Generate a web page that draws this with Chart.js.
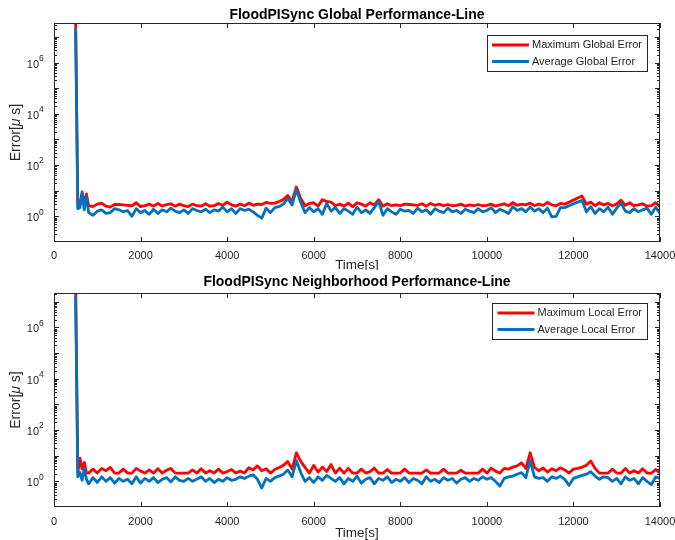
<!DOCTYPE html>
<html>
<head>
<meta charset="utf-8">
<script src="https://cdn.jsdelivr.net/npm/chart.js@4.4.1/dist/chart.umd.min.js"></script>
<style>
  html, body { margin: 0; padding: 0; background: #fff; }
  canvas { display: block; }
</style>
</head>
<body>
<canvas id="globalChart" width="675" height="270"></canvas>
<canvas id="localChart" width="675" height="270"></canvas>
<script>
// sample times [s]
const times = [
  500, 550, 600, 650, 700, 750, 800, 900, 1000, 1100,
  1200, 1300, 1400, 1500, 1600, 1700, 1800, 1900, 2000, 2100,
  2200, 2300, 2400, 2500, 2600, 2700, 2800, 2900, 3000, 3100,
  3200, 3300, 3400, 3500, 3600, 3700, 3800, 3900, 4000, 4100,
  4200, 4300, 4400, 4500, 4600, 4700, 4800, 4900, 5000, 5100,
  5200, 5300, 5400, 5500, 5600, 5700, 5800, 5900, 6000, 6100,
  6200, 6300, 6400, 6500, 6600, 6700, 6800, 6900, 7000, 7100,
  7200, 7300, 7400, 7500, 7600, 7700, 7800, 7900, 8000, 8100,
  8200, 8300, 8400, 8500, 8600, 8700, 8800, 8900, 9000, 9100,
  9200, 9300, 9400, 9500, 9600, 9700, 9800, 9900, 10000, 10100,
  10200, 10300, 10400, 10500, 10600, 10700, 10800, 10900, 11000, 11100,
  11200, 11300, 11400, 11500, 11600, 11700, 11800, 11900, 12000, 12100,
  12200, 12300, 12400, 12500, 12600, 12700, 12800, 12900, 13000, 13100,
  13200, 13300, 13400, 13500, 13600, 13700, 13800, 13900, 14000
];

// global error [us]
const maxGlobal = [
  4e7, 2.6, 3.0, 9.0, 3.2, 7.5, 2.6, 2.4, 3.0, 3.3,
  2.5, 2.3, 2.9, 2.9, 2.8, 2.7, 2.6, 3.4, 2.4, 2.6,
  3.0, 2.5, 3.2, 2.5, 2.9, 3.1, 2.5, 3.0, 2.6, 2.4,
  3.0, 2.6, 2.5, 3.1, 2.5, 2.6, 3.2, 2.7, 3.6, 2.8,
  2.5, 3.0, 2.6, 3.3, 2.7, 3.0, 2.9, 3.5, 3.2, 3.3,
  3.8, 4.5, 6.5, 3.8, 14, 5.0, 2.6, 3.2, 3.4, 2.5,
  4.5, 3.8, 3.6, 2.6, 3.0, 2.5, 3.3, 2.4, 3.4, 3.0,
  2.5, 3.4, 2.8, 4.5, 2.5, 3.1, 2.6, 2.8, 2.6, 3.0,
  2.9, 2.8, 2.7, 3.1, 2.5, 3.2, 2.7, 3.0, 2.6, 2.9,
  2.6, 2.7, 3.0, 2.5, 2.8, 2.6, 2.9, 2.6, 2.7, 3.0,
  2.5, 2.8, 3.1, 2.6, 3.4, 2.7, 3.0, 2.8, 3.3, 2.6,
  3.0, 2.7, 3.5, 2.8, 2.6, 3.2, 3.0, 3.6, 4.3, 5.2,
  6.2, 3.0, 3.6, 2.6, 3.4, 2.8, 3.2, 2.6, 3.0, 4.3,
  2.7, 3.4, 2.6, 2.8, 3.1, 2.5, 2.6, 3.4, 2.4
];
const avgGlobal = [
  2e7, 2.0, 2.2, 8.0, 1.8, 6.0, 1.4, 1.1, 1.6, 1.8,
  1.3, 1.4, 2.0, 1.8, 1.5, 1.7, 1.0, 2.0, 1.4, 1.7,
  1.2, 1.9, 1.3, 1.8, 1.5, 2.1, 1.6, 1.4, 1.8, 1.3,
  2.0, 1.7, 1.5, 1.9, 1.4, 1.8, 1.6, 2.3, 1.5, 2.0,
  1.3, 2.0, 1.7, 1.9, 1.5, 1.1, 0.85, 2.1, 1.4, 2.2,
  2.4, 3.0, 5.0, 2.8, 11, 3.5, 1.4, 2.2, 1.5, 2.0,
  1.2, 3.2, 1.6, 2.2, 1.3, 2.0, 1.6, 1.2, 2.3, 1.4,
  1.8, 1.3, 2.2, 3.8, 1.1, 2.0, 1.5, 1.2, 1.9, 1.6,
  1.7, 1.3, 2.1, 1.5, 1.8, 1.2, 2.0, 1.6, 1.4, 2.1,
  1.5, 1.7, 1.3, 1.9, 1.6, 1.4, 2.0, 1.5, 1.7, 2.2,
  1.4, 1.9, 1.6, 1.3, 2.4, 1.7, 2.0, 1.5, 2.3, 1.6,
  2.0, 1.4, 2.1, 0.95, 1.0, 2.2, 2.2, 2.6, 3.1, 3.6,
  4.2, 1.5, 2.4, 1.3, 2.0, 1.5, 2.3, 1.2, 2.1, 3.3,
  1.6, 1.4, 2.0, 1.5, 1.8, 2.1, 1.2, 2.3, 1.3
];

// neighborhood (local) error [us]
const maxLocal = [
  4e7, 2.2, 8.0, 3.0, 5.5, 2.2, 2.1, 3.0, 2.1, 3.2,
  2.6, 3.5, 2.1, 2.1, 3.0, 2.1, 2.1, 3.2, 2.5, 2.1,
  2.8, 2.1, 3.1, 2.1, 2.7, 3.2, 2.1, 2.1, 2.1, 2.1,
  2.8, 2.1, 3.1, 2.1, 2.6, 2.1, 3.0, 2.1, 2.4, 2.9,
  2.1, 2.5, 2.1, 3.4, 2.8, 4.0, 2.6, 3.1, 2.1, 2.9,
  3.5, 4.2, 6.0, 3.0, 13, 6.0, 3.5, 2.1, 4.2, 2.3,
  3.6, 2.4, 4.5, 2.1, 3.3, 2.1, 3.2, 2.1, 2.1, 3.0,
  2.1, 2.4, 3.3, 2.1, 2.1, 2.9, 2.1, 2.1, 2.1, 3.0,
  2.1, 2.1, 2.1, 2.1, 2.8, 2.1, 2.1, 2.1, 3.0, 2.1,
  2.1, 2.1, 2.7, 2.1, 2.1, 2.1, 2.1, 3.0, 2.1, 3.3,
  2.5, 2.1, 3.2, 3.0, 3.6, 4.0, 5.3, 3.2, 13, 3.5,
  2.6, 3.3, 2.3, 3.1, 2.6, 3.4, 2.8, 2.1, 3.0, 3.2,
  3.6, 4.2, 6.2, 3.2, 2.1, 2.1, 2.1, 3.0, 2.1, 2.1,
  3.2, 2.1, 2.6, 2.1, 3.1, 2.1, 2.1, 2.9, 2.1
];
const avgLocal = [
  1.5e7, 1.5, 2.2, 1.1, 3.2, 1.2, 0.8, 1.4, 0.9, 1.5,
  1.0, 1.4, 0.85, 1.3, 1.0, 1.2, 0.8, 1.5, 0.85, 1.3,
  1.0, 1.4, 0.9, 1.2, 1.4, 0.95, 1.5, 1.1, 1.0, 1.3,
  1.0, 1.2, 1.5, 1.0, 1.3, 0.9, 1.2, 1.0, 1.4, 1.1,
  1.2, 1.5, 1.3, 1.6, 1.8, 1.2, 0.55, 1.3, 1.0, 1.4,
  1.6, 1.9, 2.8, 1.5, 6.5, 2.2, 1.0, 1.4, 0.9, 1.5,
  1.1, 1.7, 1.3, 1.0, 1.4, 0.8, 1.3, 1.0, 1.6, 0.85,
  1.2, 1.4, 0.8, 1.3, 1.1, 1.5, 0.9, 1.2, 1.0, 1.4,
  0.9, 1.3, 1.1, 0.8, 1.5, 1.0, 1.2, 0.9, 1.4, 1.1,
  1.3, 0.85, 1.2, 1.4, 1.0, 1.3, 1.1, 1.5, 1.2, 1.4,
  1.0, 0.65, 1.3, 1.5, 1.6, 1.9, 2.2, 1.4, 6.5, 1.5,
  1.3, 1.4, 1.0, 1.5, 1.3, 1.6, 1.2, 0.7, 1.3, 1.5,
  1.7, 1.9, 2.4, 1.6, 1.2, 1.5, 1.4, 1.0, 1.3, 0.8,
  1.5, 1.1, 1.3, 0.8, 1.4, 1.0, 0.75, 1.5, 1.3
];

const xTicks = [0, 2000, 4000, 6000, 8000, 10000, 12000, 14000];
const yTickExps = [0, 2, 4, 6];

const RED = '#ff0000';
const BLUE = '#0072bd';
const INK = '#262626';
const FONT = '"Liberation Sans", Arial, Helvetica, sans-serif';

const pts = (arr) => times.map((t, i) => ({ x: t, y: arr[i] }));

// MATLAB-style box, inward ticks, labels and an inset legend
const frame = {
  id: 'frame',
  afterDatasetsDraw(chart, args, o) {
    const { ctx, chartArea: a, scales: { x, y } } = chart;
    const cx = (a.left + a.right) / 2;
    ctx.save();
    ctx.strokeStyle = INK;
    ctx.lineWidth = 1;

    // ticks
    ctx.beginPath();
    xTicks.forEach(v => {
      const px = Math.round(x.getPixelForValue(v)) + 0.5;
      ctx.moveTo(px, a.bottom); ctx.lineTo(px, a.bottom - 5);
      ctx.moveTo(px, a.top); ctx.lineTo(px, a.top + 5);
    });
    for (let e = -1; e <= 7; e++) {
      for (let m = 1; m <= 9; m++) {
        const v = m * Math.pow(10, e);
        if (v <= y.min || v >= y.max) continue;
        const py = Math.round(y.getPixelForValue(v)) + 0.5;
        const len = m === 1 ? 5 : 3;
        ctx.moveTo(a.left, py); ctx.lineTo(a.left + len, py);
        ctx.moveTo(a.right, py); ctx.lineTo(a.right - len, py);
      }
    }
    ctx.stroke();

    // box
    ctx.strokeRect(a.left + 0.5, a.top + 0.5, a.right - a.left - 1, a.bottom - a.top - 1);

    // x tick labels
    ctx.fillStyle = INK;
    ctx.font = '11px ' + FONT;
    ctx.textAlign = 'center';
    ctx.textBaseline = 'middle';
    xTicks.forEach(v => ctx.fillText(String(v), x.getPixelForValue(v), a.bottom + o.tickGap));

    // y tick labels 10^n
    yTickExps.forEach(e => {
      const py = y.getPixelForValue(Math.pow(10, e));
      ctx.font = '11px ' + FONT;
      ctx.textAlign = 'right';
      ctx.fillText('10', a.left - 15, py + 2);
      ctx.font = '8.5px ' + FONT;
      ctx.textAlign = 'left';
      ctx.fillText(String(e), a.left - 15, py - 4);
    });

    // title
    ctx.fillStyle = '#000';
    ctx.font = 'bold 14px ' + FONT;
    ctx.textAlign = 'center';
    ctx.fillText(o.title, cx, o.titleY);

    // x label
    ctx.fillStyle = INK;
    ctx.font = '13.5px ' + FONT;
    ctx.fillText('Time[s]', cx, o.xLabelY);

    // y label: Error[\mu s]
    ctx.save();
    ctx.translate(16, (a.top + a.bottom) / 2);
    ctx.rotate(-Math.PI / 2);
    const parts = [['Error[', '14px '], ['\u03bc', 'italic 14px '], [' s]', '14px ']];
    let total = 0;
    parts.forEach(p => { ctx.font = p[1] + FONT; total += ctx.measureText(p[0]).width; });
    let tx = -total / 2;
    ctx.textAlign = 'left';
    parts.forEach(p => {
      ctx.font = p[1] + FONT;
      ctx.fillText(p[0], tx, 0);
      tx += ctx.measureText(p[0]).width;
    });
    ctx.restore();

    // legend
    ctx.font = '11px ' + FONT;
    const labels = chart.data.datasets.map(d => d.label);
    const colors = chart.data.datasets.map(d => d.borderColor);
    const tw = Math.max(...labels.map(l => ctx.measureText(l).width));
    const right = a.right - 13;
    const boxW = tw + 50;
    const left = right - boxW;
    const top = a.top + o.legendTop;
    const boxH = 36;
    ctx.fillStyle = '#fff';
    ctx.fillRect(left, top, boxW, boxH);
    ctx.strokeStyle = INK;
    ctx.lineWidth = 1;
    ctx.strokeRect(Math.round(left) + 0.5, top + 0.5, Math.round(boxW), boxH);
    labels.forEach((l, i) => {
      const ly = top + 10 + i * 16.5;
      ctx.strokeStyle = colors[i];
      ctx.lineWidth = 2.8;
      ctx.beginPath();
      ctx.moveTo(left + 5, ly); ctx.lineTo(left + 42, ly);
      ctx.stroke();
      ctx.fillStyle = INK;
      ctx.textAlign = 'left';
      ctx.fillText(l, left + 45, ly);
    });
    ctx.restore();
  }
};

function makeChart(id, maxArr, avgArr, cfg) {
  return new Chart(document.getElementById(id), {
    type: 'line',
    data: {
      datasets: [
        { label: cfg.maxLabel, data: pts(maxArr), borderColor: RED, order: 2 },
        { label: cfg.avgLabel, data: pts(avgArr), borderColor: BLUE, order: 1 }
      ]
    },
    options: {
      responsive: false,
      animation: false,
      devicePixelRatio: 1,
      layout: { padding: { top: 23, left: 54, right: 15, bottom: cfg.bottomPad } },
      elements: {
        point: { radius: 0 },
        line: { borderWidth: 2.8, tension: 0, borderJoinStyle: 'round', borderCapStyle: 'round' }
      },
      plugins: {
        legend: { display: false },
        tooltip: { enabled: false },
        frame: cfg
      },
      scales: {
        x: { type: 'linear', min: 0, max: 14000, display: false },
        y: { type: 'logarithmic', min: 0.1, max: cfg.yMax, display: false }
      }
    },
    plugins: [frame]
  });
}

makeChart('globalChart', maxGlobal, avgGlobal, {
  title: 'FloodPISync Global Performance-Line',
  maxLabel: 'Maximum Global Error',
  avgLabel: 'Average Global Error',
  yMax: 3.5e7, bottomPad: 28,
  titleY: 15, xLabelY: 265, tickGap: 14, legendTop: 12
});

makeChart('localChart', maxLocal, avgLocal, {
  title: 'FloodPISync Neighborhood Performance-Line',
  maxLabel: 'Maximum Local Error',
  avgLabel: 'Average Local Error',
  yMax: 2.2e7, bottomPad: 33,
  titleY: 12, xLabelY: 263, tickGap: 15, legendTop: 10
});
</script>
</body>
</html>
